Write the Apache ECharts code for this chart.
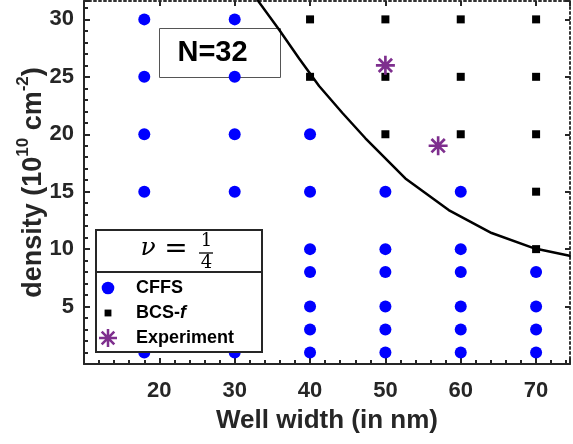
<!DOCTYPE html>
<html>
<head>
<meta charset="utf-8">
<script src="https://cdn.jsdelivr.net/npm/echarts@6/dist/echarts.min.js"></script>
<style>html,body{margin:0;padding:0;background:#fff}#c{width:573px;height:444px}</style>
</head>
<body>
<div id="c"></div>
<script>
// ---- data ----
const cffsPoints = [
  [18,30],[18,25],[18,20],[18,15],[18,10],[18,8],[18,5],[18,3],[18,1],
  [30,30],[30,25],[30,20],[30,15],[30,10],[30,8],[30,5],[30,3],[30,1],
  [40,20],[40,15],[40,10],[40,8],[40,5],[40,3],[40,1],
  [50,15],[50,10],[50,8],[50,5],[50,3],[50,1],
  [60,15],[60,10],[60,8],[60,5],[60,3],[60,1],
  [70,8],[70,5],[70,3],[70,1]
];
const bcsPoints = [
  [40,30],[40,25],
  [50,30],[50,25],[50,20],
  [60,30],[60,25],[60,20],
  [70,30],[70,25],[70,20],[70,15],[70,10]
];
const experimentPoints = [[50,26],[57,19]];
const boundaryWidth   = [33.0, 35.9, 38.55, 41.2, 44.3, 47.35, 52.65, 58.4, 64.1, 69.85, 74.6];
const boundaryDensity = [31.7, 29.1, 26.6, 24.2, 21.85, 19.65, 16.15, 13.4, 11.4, 10.05, 9.4];
const xTicks = [20,30,40,50,60,70];
const yTicks = [5,10,15,20,25,30];
const seriesNames = ['CFFS','BCS-f','Experiment'];

const FONT = 'Liberation Sans, Arial, Helvetica, sans-serif';
const SERIF = 'DejaVu Serif, Liberation Serif, serif';
const AX = '#262626';
const starPath = 'path://M43 0L57 0L57 100L43 100Z M0 43L100 43L100 57L0 57Z ' +
  'M20.1 9.9L90.1 79.9L79.9 90.1L9.9 20.1Z M90.1 20.1L20.1 90.1L9.9 79.9L79.9 9.9Z';
const legCircle = 'path://M0 0M100 100M85 50A35 35 0 1 1 15 50A35 35 0 1 1 85 50Z';
const legSquare = 'path://M0 0M100 100M31 31L69 31L69 69L31 69Z';

const chart = echarts.init(document.getElementById('c'), null, {renderer:'canvas'});
chart.setOption({
  animation: false,
  backgroundColor: '#fff',
  grid: {left: 84, right: 1, top: 1, bottom: 80},
  xAxis: [{
    type: 'value', min: 10, max: 74.5, interval: 10,
    name: 'Well width (in nm)', nameLocation: 'middle', nameGap: 40,
    nameTextStyle: {fontFamily: FONT, fontWeight: 'bold', fontSize: 26, color: AX, lineHeight: 28},
    axisLine: {show: true, onZero: false, lineStyle: {color: AX, width: 2}},
    axisTick: {show: true, inside: true, length: 6, lineStyle: {color: AX, width: 2}},
    minorTick: {show: true, splitNumber: 5, length: 4, lineStyle: {color: AX, width: 2}},
    splitLine: {show: false},
    axisLabel: {margin: 16, fontFamily: FONT, fontWeight: 'bold', fontSize: 22, color: AX,
      formatter: v => xTicks.indexOf(Math.round(v)) >= 0 && Math.abs(v - Math.round(v)) < 1e-6 ? String(Math.round(v)) : ''}
  }, {
    type: 'value', position: 'top', min: 10, max: 74.5, interval: 10,
    axisLine: {show: true, onZero: false, lineStyle: {color: '#333', width: 2, type: [2, 3]}},
    axisTick: {show: true, inside: true, length: 5, lineStyle: {color: AX, width: 2}},
    minorTick: {show: false},
    splitLine: {show: false}, axisLabel: {show: false}
  }],
  yAxis: [{
    type: 'value', min: 0, max: 31.6, interval: 5,
    name: '{a|density (10}{s|10}{a| cm}{s|-2}{a|)}', nameLocation: 'middle', nameGap: 37, nameRotate: 90,
    nameMoveOverlap: false,
    nameTextStyle: {
      rich: {
        a: {fontFamily: FONT, fontWeight: 'bold', fontSize: 27, color: AX, lineHeight: 32, verticalAlign: 'bottom'},
        s: {fontFamily: FONT, fontWeight: 'bold', fontSize: 17, color: AX, lineHeight: 32, verticalAlign: 'top'}
      }
    },
    axisLine: {show: true, onZero: false, lineStyle: {color: AX, width: 2}},
    axisTick: {show: true, inside: true, length: 6, lineStyle: {color: AX, width: 2}},
    minorTick: {show: true, splitNumber: 5, length: 4, lineStyle: {color: AX, width: 2}},
    splitLine: {show: false},
    axisLabel: {margin: 10, fontFamily: FONT, fontWeight: 'bold', fontSize: 22, color: AX,
      formatter: v => yTicks.indexOf(Math.round(v)) >= 0 && Math.abs(v - Math.round(v)) < 1e-6 ? String(Math.round(v)) : ''}
  }, {
    type: 'value', position: 'right', min: 0, max: 31.6, interval: 5,
    axisLine: {show: true, onZero: false, lineStyle: {color: '#333', width: 2, type: [2, 3]}},
    axisTick: {show: true, inside: true, length: 5, lineStyle: {color: AX, width: 2}},
    splitLine: {show: false}, axisLabel: {show: false}
  }],
  legend: {
    orient: 'vertical', left: 99, top: 279, padding: 0, z: 30,
    itemWidth: 46, itemHeight: 18, itemGap: 7, selectedMode: false,
    symbolKeepAspect: true,
    data: [
      {name: seriesNames[0], icon: legCircle},
      {name: seriesNames[1], icon: legSquare},
      {name: seriesNames[2], icon: starPath}
    ],
    formatter: n => n === 'BCS-f' ? 'BCS-{i|f}' : n,
    textStyle: {fontFamily: FONT, fontWeight: 'bold', fontSize: 18, lineHeight: 18, color: '#000',
      rich: {i: {fontFamily: FONT, fontWeight: 'bold', fontStyle: 'italic', fontSize: 18, lineHeight: 18, color: '#000'}}}
  },
  graphic: [
    {type: 'rect', z: 1, shape: {x: 159.5, y: 28.5, width: 121, height: 49},
     style: {fill: 'rgba(0,0,0,0)', stroke: '#555', lineWidth: 1}},
    {type: 'text', z: 1, x: 212.5, y: 53,
     style: {text: 'N=32', fontFamily: FONT, fontWeight: 'bold', fontSize: 29, fill: '#000', align: 'center', verticalAlign: 'middle'}},
    {type: 'rect', z: 20, shape: {x: 96, y: 230, width: 166, height: 122},
     style: {fill: '#fff', stroke: AX, lineWidth: 2}},
    {type: 'line', z: 21, shape: {x1: 96, y1: 272, x2: 262, y2: 272},
     style: {stroke: AX, lineWidth: 2}},
    {type: 'text', z: 31, x: 148, y: 248,
     style: {text: 'ν', fontFamily: SERIF, fontStyle: 'italic', fontSize: 25, fill: '#000', align: 'center', verticalAlign: 'middle'}},
    {type: 'text', z: 31, x: 176, y: 250,
     style: {text: '=', fontFamily: SERIF, fontSize: 28, fill: '#000', align: 'center', verticalAlign: 'middle'}},
    {type: 'text', z: 31, x: 206.5, y: 241.5,
     style: {text: '1', fontFamily: SERIF, fontSize: 18, fill: '#000', align: 'center', verticalAlign: 'middle'}},
    {type: 'line', z: 31, shape: {x1: 199, y1: 253, x2: 213, y2: 253},
     style: {stroke: '#000', lineWidth: 1.3}},
    {type: 'text', z: 31, x: 206.5, y: 263.5,
     style: {text: '4', fontFamily: SERIF, fontSize: 18, fill: '#000', align: 'center', verticalAlign: 'middle'}}
  ],
  series: [
    {
      name: 'boundary', type: 'line', xAxisIndex: 0, yAxisIndex: 0,
      data: boundaryWidth.map((w, i) => [w, boundaryDensity[i]]),
      showSymbol: false, symbol: 'none', smooth: false, clip: true,
      lineStyle: {color: '#000', width: 2.5}, z: 2
    },
    {
      name: seriesNames[0], type: 'scatter', data: cffsPoints,
      symbol: 'circle', symbolSize: 12, itemStyle: {color: '#0000ff', opacity: 1}, z: 3
    },
    {
      name: seriesNames[1], type: 'scatter', data: bcsPoints,
      symbol: 'rect', symbolSize: 8, itemStyle: {color: '#000', opacity: 1}, z: 3
    },
    {
      name: seriesNames[2], type: 'scatter', data: experimentPoints,
      symbol: starPath, symbolSize: 19, itemStyle: {color: '#7E2F8E', opacity: 1}, z: 3
    }
  ]
});
</script>
</body>
</html>
